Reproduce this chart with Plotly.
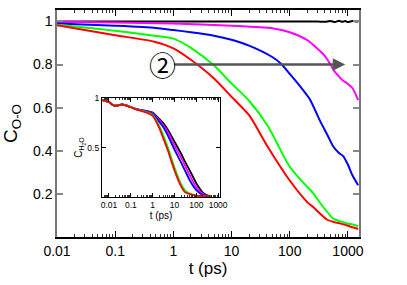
import numpy as np
import plotly.graph_objects as go

# ---------------- main panel data ----------------
t_black = [0.01, 0.1, 1, 10, 100, 300, 400, 500, 600, 700, 800, 900, 1000, 1200, 1500]
c_black = [1.0, 1.0, 1.0, 1.0, 1.0, 1.0, 0.998, 1.002, 0.997, 1.003, 0.998, 1.002, 0.997, 1.002, 0.999]

t_mag = [0.01, 0.1, 1, 10, 50, 100, 200, 300, 400, 500, 600, 700, 800, 1000, 1200, 1500]
c_mag = [0.998, 0.995, 0.99, 0.98, 0.968, 0.95, 0.913, 0.873, 0.84, 0.80, 0.765, 0.745, 0.728, 0.71, 0.69, 0.635]

t_blue = [0.01, 0.1, 0.5, 1, 2, 5, 10, 20, 50, 70, 100, 150, 220, 330, 450, 560, 700, 830, 1000, 1200, 1500]
c_blue = [0.99, 0.98, 0.97, 0.96, 0.95, 0.934, 0.915, 0.888, 0.835, 0.805, 0.757, 0.70, 0.64, 0.54, 0.47, 0.42, 0.39, 0.375, 0.335, 0.285, 0.24]

t_green = [0.01, 0.1, 0.47, 1, 2, 5, 10, 20, 42, 100, 200, 250, 350, 560, 700, 850, 1000, 1200, 1500]
c_green = [0.985, 0.957, 0.934, 0.92, 0.877, 0.795, 0.712, 0.632, 0.515, 0.326, 0.232, 0.205, 0.15, 0.085, 0.075, 0.068, 0.062, 0.058, 0.05]

t_red = [0.01, 0.1, 0.47, 1, 2, 5, 10, 20, 40, 100, 200, 250, 440, 600, 750, 1000, 1200, 1500]
c_red = [0.982, 0.936, 0.906, 0.875, 0.822, 0.735, 0.65, 0.565, 0.427, 0.262, 0.162, 0.14, 0.08, 0.068, 0.062, 0.052, 0.045, 0.037]

# ---------------- inset data ----------------
ti = [0.005, 0.01, 0.016, 0.025, 0.04, 0.1, 0.2, 0.5, 1, 2, 3, 5, 10, 20, 30, 50, 100, 200, 300, 500]
ci_black = [0.98, 0.96, 0.925, 0.925, 0.935, 0.91, 0.885, 0.87, 0.855, 0.79, 0.75, 0.68, 0.56, 0.44, 0.36, 0.27, 0.14, 0.045, 0.02, 0.01]
ci_mag = [0.98, 0.96, 0.925, 0.925, 0.935, 0.91, 0.885, 0.868, 0.848, 0.775, 0.73, 0.655, 0.52, 0.40, 0.32, 0.22, 0.10, 0.03, 0.015, 0.01]
ci_blue = [0.98, 0.96, 0.925, 0.925, 0.935, 0.91, 0.885, 0.866, 0.842, 0.76, 0.71, 0.62, 0.48, 0.35, 0.27, 0.17, 0.07, 0.02, 0.015, 0.01]
ci_green = [0.98, 0.96, 0.925, 0.925, 0.935, 0.91, 0.883, 0.86, 0.83, 0.72, 0.63, 0.50, 0.30, 0.13, 0.07, 0.035, 0.015, 0.01, 0.01, 0.01]
ci_red = [0.98, 0.96, 0.925, 0.925, 0.935, 0.905, 0.88, 0.855, 0.82, 0.70, 0.60, 0.47, 0.27, 0.11, 0.05, 0.03, 0.015, 0.01, 0.008, 0.008]

x_ticks = [0.01, 0.1, 1, 10, 100, 1000]
x_ticktext = ["0.01", "0.1", "1", "10", "100", "1000"]
y_ticks = [0.2, 0.4, 0.6, 0.8, 1.0]
y_ticktext = ["0.2", "0.4", "0.6", "0.8", "1"]
yi_ticks = [0.5, 1.0]
yi_ticktext = ["0.5", "1"]

minor_vals = [m * 10.0 ** e for e in range(-3, 4) for m in range(2, 10)]

BLACK, MAG, BLUE, GREEN, RED = "#000000", "#ff00ff", "#0000ff", "#00ff00", "#ff0000"
FONT = "Liberation Sans, Arial, sans-serif"

fig = go.Figure()
for t, c, col in [(t_black, c_black, BLACK), (t_mag, c_mag, MAG), (t_blue, c_blue, BLUE),
                  (t_green, c_green, GREEN), (t_red, c_red, RED)]:
    fig.add_trace(go.Scatter(x=t, y=c, mode="lines", line=dict(color=col, width=2, shape="spline", smoothing=0.7),
                             xaxis="x", yaxis="y", showlegend=False, hoverinfo="skip"))
for c, col in [(ci_black, BLACK), (ci_mag, MAG), (ci_blue, BLUE), (ci_green, GREEN), (ci_red, RED)]:
    fig.add_trace(go.Scatter(x=ti, y=c, mode="lines", line=dict(color=col, width=1.8, shape="spline", smoothing=0.6),
                             xaxis="x2", yaxis="y2", showlegend=False, hoverinfo="skip"))

fig.update_layout(
    width=407, height=285,
    margin=dict(l=57, r=48, t=10, b=48),
    paper_bgcolor="white", plot_bgcolor="white",
    font=dict(family=FONT, color="black"),
    xaxis=dict(type="log", range=[-2, 3.19], tickvals=x_ticks, ticktext=x_ticktext, automargin=False,
               ticks="inside", ticklen=6, tickwidth=1.2, tickcolor="black",
               minor=dict(tickvals=minor_vals, ticks="inside", ticklen=3, tickwidth=1, tickcolor="#333"),
               showline=True, linecolor="black", linewidth=1.5, mirror="ticks",
               showgrid=False, zeroline=False, tickfont=dict(size=14),
               title=dict(text="t (ps)", font=dict(size=17), standoff=2)),
    yaxis=dict(range=[0, 1.053], tickvals=y_ticks, ticktext=y_ticktext, automargin=False,
               ticks="inside", ticklen=6, tickwidth=1.5, tickcolor="#888",
               showline=True, linecolor="#777", linewidth=1.5, mirror="ticks",
               showgrid=False, zeroline=False, tickfont=dict(size=14),
               title=dict(text="C<sub>O-O</sub>", font=dict(size=19), standoff=12)),
    xaxis2=dict(type="log", range=[-2.32, 3.09], domain=[0.149, 0.54], anchor="y2", automargin=False,
                tickvals=x_ticks, ticktext=x_ticktext,
                ticks="inside", ticklen=4, tickwidth=1, tickcolor="black",
                minor=dict(tickvals=minor_vals, ticks="inside", ticklen=2, tickwidth=0.8, tickcolor="#333"),
                showline=True, linecolor="black", linewidth=1.2, mirror="ticks",
                showgrid=False, zeroline=False, tickfont=dict(size=8.5),
                title=dict(text="t (ps)", font=dict(size=10), standoff=2)),
    yaxis2=dict(range=[0, 1.0], domain=[0.176, 0.612], anchor="x2", automargin=False,
                tickvals=yi_ticks, ticktext=yi_ticktext,
                ticks="inside", ticklen=4, tickwidth=1, tickcolor="black",
                showline=True, linecolor="black", linewidth=1.2, mirror="ticks",
                showgrid=False, zeroline=False, tickfont=dict(size=8.5),
                title=dict(text="C<sub>H<sub>2</sub>O</sub>", font=dict(size=10), standoff=2)),
)

# arrow and circled label
fig.add_annotation(x=np.log10(900), y=0.8, ax=np.log10(0.95), ay=0.8, xref="x", yref="y",
                   axref="x", ayref="y", showarrow=True, arrowhead=2, arrowsize=1,
                   arrowwidth=2.5, arrowcolor="#555", text=" ", font=dict(size=2))
fig.add_annotation(x=np.log10(0.65), y=0.8, xref="x", yref="y", text="②", showarrow=False,
                   font=dict(size=27, family="Noto Sans CJK SC, Noto Sans CJK JP", color="black"))

fig.write_html("out.html", config={"displayModeBar": False},
               post_script="document.body.style.margin='0';document.body.style.padding='0';")
